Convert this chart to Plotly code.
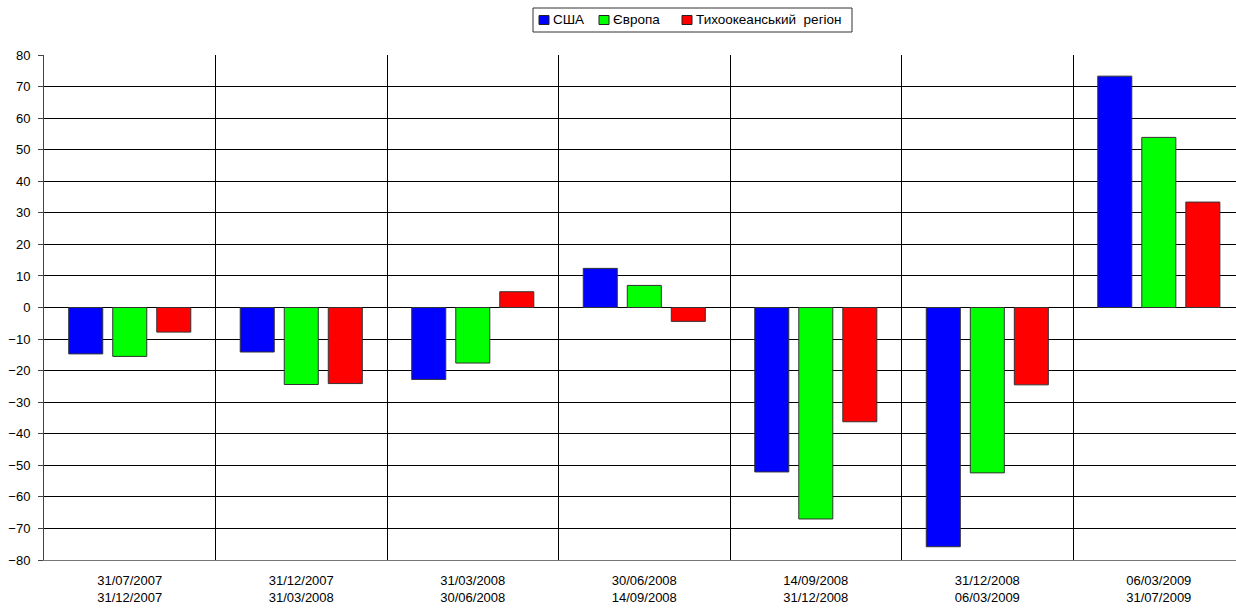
import plotly.graph_objects as go

# Period labels (start / end dates of each interval)
periods = [
    "31/07/2007<br>31/12/2007",
    "31/12/2007<br>31/03/2008",
    "31/03/2008<br>30/06/2008",
    "30/06/2008<br>14/09/2008",
    "14/09/2008<br>31/12/2008",
    "31/12/2008<br>06/03/2009",
    "06/03/2009<br>31/07/2009",
]

usa = [-14.7, -14.1, -22.8, 12.4, -52.1, -75.8, 73.3]
europe = [-15.5, -24.4, -17.6, 7.0, -67.0, -52.4, 53.9]
pacific = [-7.8, -24.1, 5.0, -4.4, -36.2, -24.5, 33.4]

series_names = ["США", "Європа", "Тихоокеанський  регіон"]
series_colors = ["#0000FF", "#00FF00", "#FF0000"]
series_values = [usa, europe, pacific]

font_family = "Liberation Sans, Arial, sans-serif"

# Plot-area geometry in pixels, used to place the boxed legend
W, H = 1236, 608
ML, MR, MT, MB = 44, 0, 55, 48
PW, PH = W - ML - MR, H - MT - MB


def px_x(px):
    return (px - ML) / PW


def px_y(py):
    return (H - MB - py) / PH


fig = go.Figure()
for name, values, color in zip(series_names, series_values, series_colors):
    fig.add_trace(go.Bar(
        x=periods,
        y=values,
        name=name,
        marker=dict(color=color, line=dict(color="#333333", width=1)),
        showlegend=False,
    ))

# Boxed legend across the top
shapes = [dict(
    type="rect", xref="paper", yref="paper",
    x0=px_x(533), x1=px_x(852), y0=px_y(32), y1=px_y(8),
    line=dict(color="#333333", width=1), fillcolor="white", layer="above",
)]
annotations = []
swatch_left = [539, 599, 682]
for name, color, sx in zip(series_names, series_colors, swatch_left):
    shapes.append(dict(
        type="rect", xref="paper", yref="paper",
        x0=px_x(sx), x1=px_x(sx + 10), y0=px_y(24.5), y1=px_y(15.5),
        line=dict(color="#222222", width=1), fillcolor=color, layer="above",
    ))
    annotations.append(dict(
        xref="paper", yref="paper", x=px_x(sx + 12), y=px_y(20),
        xanchor="left", yanchor="middle", showarrow=False,
        text=name, font=dict(size=13.5, color="black", family=font_family),
    ))

fig.update_layout(
    width=W,
    height=H,
    autosize=False,
    margin=dict(l=ML, r=MR, t=MT, b=MB),
    paper_bgcolor="white",
    plot_bgcolor="white",
    font=dict(family=font_family, size=13, color="black"),
    barmode="group",
    bargap=0.23,
    bargroupgap=0.227,
    showlegend=False,
    shapes=shapes,
    annotations=annotations,
    xaxis=dict(
        type="category",
        range=[-0.5, 6.45],
        tickson="boundaries",
        showgrid=True,
        gridcolor="black",
        gridwidth=1,
        ticks="",
        ticklabelstandoff=8,
        showline=True,
        linecolor="#777777",
        linewidth=1,
        tickfont=dict(size=13),
    ),
    yaxis=dict(
        range=[-80, 80],
        dtick=10,
        tick0=0,
        showgrid=True,
        gridcolor="black",
        gridwidth=1,
        zeroline=True,
        zerolinecolor="black",
        zerolinewidth=1,
        showline=True,
        linecolor="#444444",
        linewidth=1,
        ticks="outside",
        ticklen=5,
        tickcolor="#444444",
        ticklabelstandoff=5,
        tickfont=dict(size=13),
    ),
)

fig.write_html("out.html")
